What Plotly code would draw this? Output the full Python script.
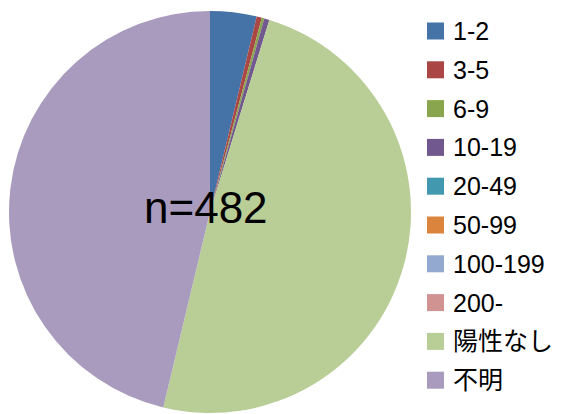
import plotly.graph_objects as go

labels = ["1-2", "3-5", "6-9", "10-19", "20-49", "50-99", "100-199", "200-", "陽性なし", "不明"]
values = [18, 2, 1, 2, 0, 0, 0, 0, 236, 223]
colors = ["#4572A7", "#AA4643", "#89A54E", "#71588F", "#4198AF", "#DB843D",
          "#93A9CF", "#D19392", "#B9CD96", "#A99BBD"]
total_label = "n=482"

W, H = 562, 414
FONT = "Liberation Sans, Noto Sans CJK JP"

fig = go.Figure(go.Pie(
    labels=labels, values=values, sort=False, direction="clockwise", rotation=0,
    marker=dict(colors=colors, line=dict(width=0)),
    textinfo="none", hoverinfo="label+value", showlegend=False,
    domain=dict(x=[9/W, 411/W], y=[1/H, 403/H]),
))
fig.add_annotation(text=total_label, x=205.5/W, y=1-207/H, xref="paper", yref="paper",
                   showarrow=False, font=dict(size=44, color="black", family=FONT))

# legend drawn as colour squares + labels
row0, gap = 31, 38.8
for i, (lab, col) in enumerate(zip(labels, colors)):
    cy = row0 + i * gap
    fig.add_shape(type="rect", xref="paper", yref="paper",
                  x0=427/W, x1=444/W, y0=1-(cy+8.5)/H, y1=1-(cy-8.5)/H,
                  fillcolor=col, line=dict(width=0))
    fig.add_annotation(text=lab, x=451/W, y=1-cy/H, xref="paper", yref="paper",
                       xanchor="left", yanchor="middle", showarrow=False,
                       font=dict(size=25, color="black", family=FONT))

fig.update_layout(
    width=W, height=H, margin=dict(l=0, r=0, t=0, b=0),
    paper_bgcolor="white", showlegend=False,
)
fig.write_html("out.html", config={"displayModeBar": False},
               post_script="document.body.style.margin='0';")
